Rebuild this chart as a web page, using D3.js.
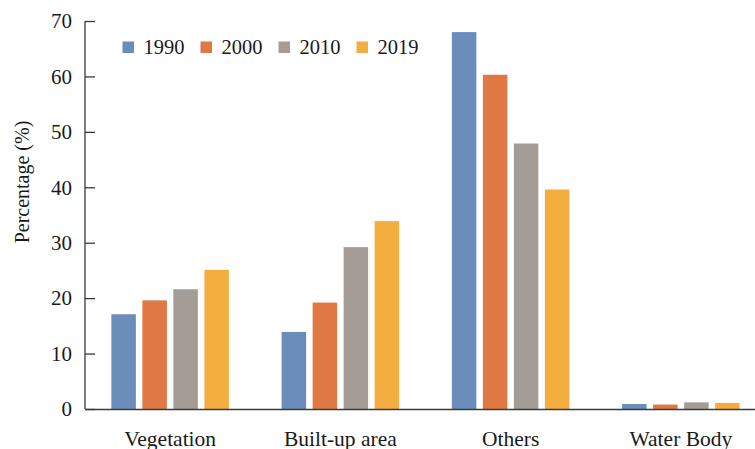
<!DOCTYPE html>
<html>
<head>
<meta charset="utf-8">
<script src="https://cdn.jsdelivr.net/npm/d3@7"></script>
<style>
  html, body { margin: 0; padding: 0; background: #fff; }
  svg text { font-family: 'Liberation Serif', 'Times New Roman', Times, serif !important; }
</style>
</head>
<body>
<svg id="chart" width="755" height="449"></svg>
<script>
// Land-cover share by class and year
const categories = ["Vegetation", "Built-up area", "Others", "Water Body"];
const years = ["1990", "2000", "2010", "2019"];
const values1990 = [17.1, 13.9, 68.0, 0.9];
const values2000 = [19.6, 19.2, 60.3, 0.8];
const values2010 = [21.6, 29.2, 47.9, 1.2];
const values2019 = [25.1, 33.9, 39.6, 1.1];
const yTicks = [0, 10, 20, 30, 40, 50, 60, 70];
const colors = ["#6a8dba", "#e07843", "#a39c97", "#f3ae3f"];

const series = [values1990, values2000, values2010, values2019];

const svg = d3.select("#chart");
const axisColor = "#3a3a3a";
const textColor = "#1a1a1a";

const x0 = d3.scaleBand().domain(categories).range([85, 766]).paddingInner(0).paddingOuter(0);
const x1 = d3.scaleBand().domain(years).range([0, x0.bandwidth()]).paddingInner(0.21).paddingOuter(0.85);
const y = d3.scaleLinear().domain([0, 70]).range([409, 21]);
const color = d3.scaleOrdinal().domain(years).range(colors);

// Bars
const groups = svg.append("g").selectAll("g")
  .data(categories)
  .join("g")
  .attr("transform", d => `translate(${x0(d)},0)`);

groups.selectAll("rect")
  .data((d, i) => years.map((yr, j) => ({ year: yr, value: series[j][i] })))
  .join("rect")
  .attr("x", d => x1(d.year))
  .attr("width", x1.bandwidth())
  .attr("y", d => y(d.value))
  .attr("height", d => y(0) - y(d.value))
  .attr("fill", d => color(d.year));

// Y axis with inward ticks
const yAxis = d3.axisLeft(y).tickValues(yTicks).tickSize(-10).tickPadding(13);
const gy = svg.append("g").attr("transform", "translate(85,0)").call(yAxis);
gy.select(".domain").attr("stroke", axisColor).attr("stroke-width", 1.3).attr("d", "M0,21V409");
gy.selectAll(".tick line").attr("stroke", axisColor).attr("stroke-width", 1.3);
gy.selectAll(".tick text").attr("font-size", 21).attr("fill", textColor);

// X axis
const xAxis = d3.axisBottom(x0).tickSize(0).tickPadding(22);
const gx = svg.append("g").attr("transform", "translate(0,409)").call(xAxis);
gx.select(".domain").attr("stroke", axisColor).attr("stroke-width", 1.3);
gx.selectAll(".tick text").attr("font-size", 21.5).attr("fill", textColor);

// Y axis title
svg.append("text")
  .attr("transform", "translate(29,182) rotate(-90)")
  .attr("text-anchor", "middle")
  .attr("font-size", 20)
  .attr("fill", textColor)
  .text("Percentage (%)");

// Legend
const legend = svg.append("g").selectAll("g")
  .data(years)
  .join("g")
  .attr("transform", (d, i) => `translate(${122.5 + i * 78},41.5)`);
legend.append("rect").attr("width", 11.5).attr("height", 11.5).attr("fill", d => color(d));
legend.append("text")
  .attr("x", 21).attr("y", 12)
  .attr("font-size", 20.5).attr("fill", textColor)
  .text(d => d);
</script>
</body>
</html>
